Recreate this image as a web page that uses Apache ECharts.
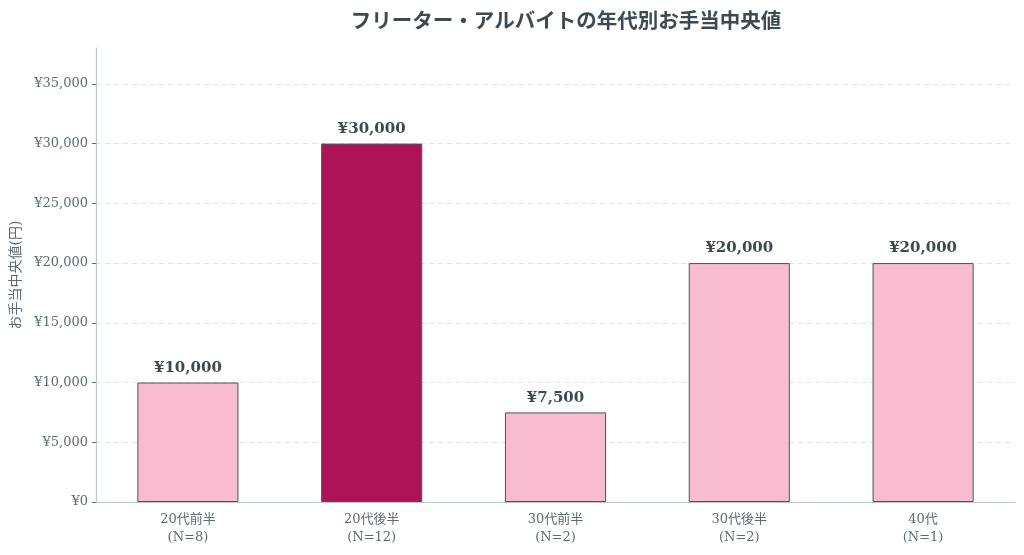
<!DOCTYPE html>
<html>
<head>
<meta charset="utf-8">
<script src="https://cdn.jsdelivr.net/npm/echarts@6/dist/echarts.min.js"></script>
<style>
  html, body { margin: 0; padding: 0; background: #fff; }
  #chart { width: 1024px; height: 555px; }
</style>
</head>
<body>
<div id="chart"></div>
<script>
    "use strict";
    var categories = ['20代前半\n(N=8)', '20代後半\n(N=12)', '30代前半\n(N=2)', '30代後半\n(N=2)', '40代\n(N=1)'];
    var medianValues = [10000, 30000, 7500, 20000, 20000];
    var highlightIndex = 1;//最大値の棒を強調

    var FONT = "'DejaVu Serif', 'Noto Sans CJK JP', serif";
    var TEXT_DARK = '#3d4a52';
    var TEXT_GRAY = '#5f6b73';
    var AXIS_COLOR = '#b9c7cf';

    function yen(v) {
        return '¥' + v.toLocaleString('en-US');
    }

    var barData = [];
    for (var i = 0, len = medianValues.length; i < len; i++) {
        barData.push({
            value: medianValues[i],
            itemStyle: {color: i === highlightIndex ? '#ad1457' : '#f8bbd0'}
        });
    }

    var chart = echarts.init(document.getElementById('chart'));

    var chartOption = {
        backgroundColor: '#ffffff',
        textStyle: {fontFamily: FONT},
        title: {
            text: 'フリーター・アルバイトの年代別お手当中央値',
            left: 561,
            textAlign: 'center',
            top: 7,
            textStyle: {fontFamily: FONT, fontSize: 20.5, fontWeight: 'bold', color: TEXT_DARK}
        },
        grid: {left: 96, right: 9, top: 48, bottom: 53},
        xAxis: {
            type: 'category',
            data: categories,
            axisLine: {lineStyle: {color: AXIS_COLOR, width: 1.2}},
            axisTick: {alignWithLabel: true, length: 4, lineStyle: {color: TEXT_GRAY}},
            axisLabel: {fontFamily: FONT, fontSize: 13, color: TEXT_GRAY, lineHeight: 18, margin: 9}
        },
        yAxis: {
            type: 'value',
            min: 0,
            max: 38000,
            interval: 5000,
            name: 'お手当中央値(円)',
            nameLocation: 'middle',
            nameGap: 63,
            nameTextStyle: {fontFamily: FONT, fontSize: 14, color: TEXT_GRAY},
            axisLine: {show: true, lineStyle: {color: AXIS_COLOR, width: 1.2}},
            axisTick: {show: true, length: 4, lineStyle: {color: TEXT_GRAY}},
            axisLabel: {
                fontFamily: FONT, fontSize: 13, color: TEXT_GRAY, margin: 8,
                showMaxLabel: false,
                formatter: function (v) {
                    return v > 35000 ? '' : yen(v);
                }
            },
            splitLine: {
                show: true,
                showMinLine: false,
                showMaxLine: false,
                lineStyle: {color: '#dde3e7', type: [5, 4], width: 1}
            }
        },
        series: [{
            type: 'bar',
            data: barData,
            barWidth: '55%',
            itemStyle: {borderColor: '#4a5561', borderWidth: 1},
            label: {
                show: true,
                position: 'top',
                distance: 7,
                fontFamily: FONT,
                fontSize: 15,
                fontWeight: 'bold',
                color: TEXT_DARK,
                formatter: function (p) {
                    return yen(p.value);
                }
            }
        }]
    };

    chart.setOption(chartOption);
</script>
</body>
</html>
